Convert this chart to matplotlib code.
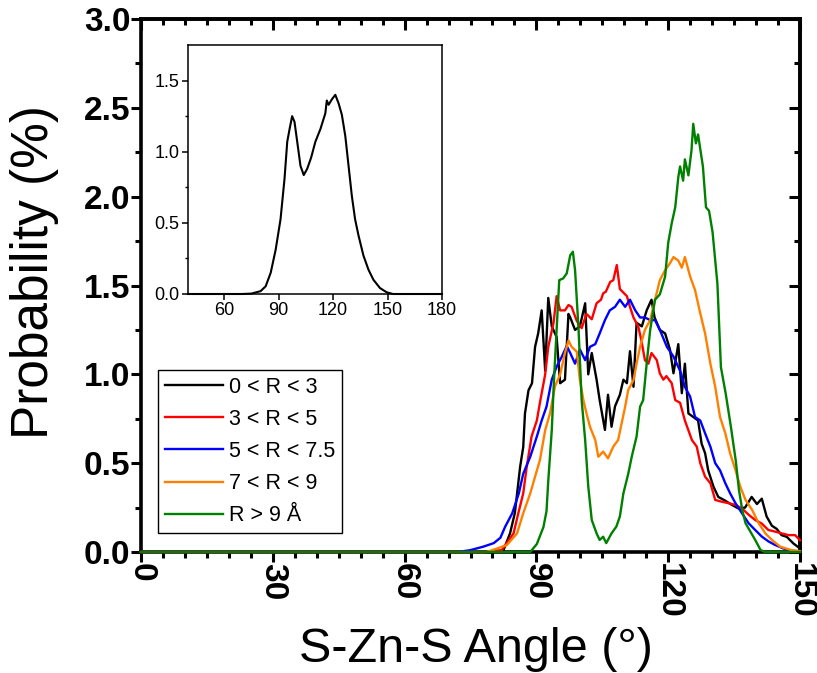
import matplotlib
matplotlib.use("Agg")
import matplotlib.pyplot as plt
from matplotlib.ticker import MultipleLocator, FixedLocator

# ---------------- data ----------------
labels = ["0 < R < 3", "3 < R < 5", "5 < R < 7.5", "7 < R < 9", "R > 9 Å"]
colors = ["#000000", "#FF0000", "#0000FF", "#FF8000", "#008000"]

x_r0 = [0, 78, 80, 82.5, 84, 85.1, 86.3, 87, 87.4, 88.2, 89, 89.7, 90.4, 91.2, 92, 92.7, 93.5, 94.6,
        95.4, 96.5, 97.3, 97.7, 98.8, 99.9, 101.1, 101.8, 102.6, 103.7, 104.4, 105.6, 106.3, 107.1,
        107.9, 109, 109.8, 110.6, 111.3, 112.1, 112.8, 114, 115.1, 116.2, 116.9, 118.1, 119.3, 120.4,
        121.2, 122.3, 123.1, 123.8, 124.6, 125.7, 126.8, 127.6, 128.4, 129.1, 130.3, 131.4, 132.9,
        134.5, 136, 137.5, 139, 140.2, 141.3, 142.4, 143.6, 144.7, 145.8, 147, 148.5, 150]
y_r0 = [0, 0, 0.0, 0.01, 0.105, 0.22, 0.48, 0.59, 0.78, 0.91, 0.95, 1.155, 1.23, 1.36, 1.02, 1.43, 1.27, 1.21,
        0.95, 0.97, 1.34, 1.32, 1.25, 1.27, 1.40, 1.0, 1.12, 0.97, 0.855, 0.687, 0.885, 0.705,
        0.82, 0.885, 0.97, 0.95, 1.13, 0.93, 1.29, 1.27, 1.36, 1.42, 1.32, 1.25, 1.23, 1.14,
        1.006, 1.17, 0.894, 1.06, 0.78, 0.76, 0.74, 0.61, 0.556, 0.46, 0.368, 0.31, 0.29,
        0.265, 0.245, 0.25, 0.31, 0.27, 0.30, 0.20, 0.148, 0.13, 0.095, 0.085, 0.048, 0.02]

x_r3 = [0, 78, 82.1, 84.8, 85.9, 87, 87.8, 88.9, 90.1, 90.8, 92, 92.7, 93.9, 94.6, 95.4, 96.5, 97.3, 98,
        99.2, 100.3, 101.4, 102.6, 103.7, 104.7, 105.2, 105.8, 106.8, 107.5, 108.3, 109, 110.6, 111.3,
        112.1, 113.2, 113.9, 114.7, 115.5, 116.2, 117.4, 118.1, 118.9, 119.6, 120.8, 121.6, 122.7,
        123.8, 125.4, 126.5, 127.3, 128.4, 129.6, 130.7, 132.2, 133.7, 135.3, 136.8, 138.3, 139.8,
        141.3, 142.8, 144.3, 145.8, 147.4, 148.9, 150]
y_r3 = [0, 0, 0.01, 0.105, 0.22, 0.33, 0.48, 0.65, 0.74, 0.84, 1.0, 1.155, 1.29, 1.44, 1.36, 1.36, 1.39, 1.38,
        1.30, 1.26, 1.34, 1.31, 1.40, 1.42, 1.456, 1.465, 1.52, 1.53, 1.615, 1.48, 1.44, 1.38,
        1.32, 1.268, 1.19, 1.08, 1.06, 1.12, 1.08, 1.005, 0.97, 0.99, 0.95, 0.855, 0.84,
        0.74, 0.63, 0.593, 0.5, 0.424, 0.387, 0.293, 0.283, 0.275, 0.265, 0.245, 0.21, 0.18,
        0.16, 0.124, 0.115, 0.105, 0.095, 0.095, 0.066]

x_r5 = [0, 72, 74.9, 77.9, 80.3, 81.8, 82.9, 84.5, 86, 87, 88.6, 90.1, 91.2, 92.3, 93.5, 94.6, 95.8, 96.9,
        97.7, 98.8, 99.9, 101.1, 102.2, 103.4, 104.4, 105.6, 106.7, 107.9, 109, 110.2, 111.3, 112.5,
        113.6, 114.7, 115.9, 117, 118.1, 119.7, 121.2, 122.7, 123.8, 125, 126.1, 127.3, 128.4, 129.6,
        130.7, 131.8, 133, 134.1, 135.3, 136.8, 138.3, 139.8, 141.3, 142.8, 144.3, 146.2, 148.5, 150]
y_r5 = [0, 0, 0.01, 0.03, 0.05, 0.08, 0.143, 0.218, 0.33, 0.44, 0.536, 0.65, 0.74, 0.818, 0.97, 1.043, 1.1, 1.16,
        1.12, 1.06, 1.14, 1.08, 1.155, 1.17, 1.23, 1.305, 1.36, 1.38, 1.42, 1.38, 1.42, 1.36,
        1.32, 1.32, 1.305, 1.305, 1.25, 1.155, 1.1, 1.02, 0.93, 0.874, 0.76, 0.74, 0.668, 0.593,
        0.5, 0.46, 0.387, 0.33, 0.275, 0.218, 0.162, 0.124, 0.087, 0.06, 0.04, 0.02, 0.005, 0]

x_r7 = [0, 76, 78.7, 81.1, 83.3, 85.6, 87, 88.6, 89.7, 90.8, 92, 93.1, 94.2, 95.4, 96.5, 97.3, 98, 99.2,
        99.9, 100.7, 101.4, 102.2, 103.4, 104.1, 105.2, 106.3, 107.5, 108.6, 109.4, 110.2, 110.9,
        112.1, 112.8, 113.6, 114.7, 115.9, 117, 118.1, 119.3, 120.4, 121.2, 122.3, 123.1, 123.8,
        125, 126.1, 127.3, 128.4, 129.6, 130.7, 131.8, 133, 134.1, 135.3, 136.4, 137.6, 139.1,
        140.6, 142.1, 143.6, 145.5, 147.8, 150]
y_r7 = [0, 0, 0.0, 0.02, 0.04, 0.105, 0.218, 0.33, 0.424, 0.517, 0.686, 0.78, 0.93, 1.0, 1.12, 1.19, 1.155, 1.127,
        0.967, 0.855, 0.78, 0.705, 0.63, 0.536, 0.565, 0.527, 0.593, 0.63, 0.724, 0.818, 0.912,
        0.967, 1.06, 1.155, 1.25, 1.305, 1.42, 1.53, 1.586, 1.625, 1.66, 1.64, 1.6, 1.66,
        1.55, 1.475, 1.343, 1.23, 1.06, 0.93, 0.76, 0.668, 0.555, 0.462, 0.368, 0.293, 0.237,
        0.162, 0.105, 0.068, 0.03, 0.012, 0.005]

x_r9 = [0, 88.6, 90.1, 91.6, 92.3, 92.7, 93.5, 94, 94.6, 95.2, 96.1, 96.9, 97.7, 98.3, 98.8, 99.2, 99.6,
        100.3, 101.1, 101.8, 102.6, 103.7, 104.4, 105.2, 105.9, 107.1, 108.2, 109, 109.8, 110.9,
        111.7, 112.8, 113.6, 114.3, 115.1, 115.9, 117, 118.1, 119.3, 120, 120.8, 121.6, 122.3,
        122.7, 123.4, 123.8, 124.6, 125.3, 125.7, 126.3, 126.8, 127.9, 128.6, 129.3, 130.1, 131.2,
        132, 133.1, 134.3, 135.4, 136.1, 136.9, 137.6, 138.7, 139.8, 141, 142, 150]
y_r9 = [0, 0, 0.045, 0.14, 0.23, 0.40, 0.686, 0.967, 1.25, 1.53, 1.54, 1.568, 1.67, 1.69, 1.587, 1.42, 1.25,
        0.855, 0.63, 0.37, 0.18, 0.105, 0.068, 0.086, 0.05, 0.105, 0.143, 0.2, 0.33, 0.44,
        0.536, 0.65, 0.818, 0.855, 1.06, 1.25, 1.42, 1.45, 1.55, 1.74, 1.85, 1.94, 2.11,
        2.17, 2.09, 2.21, 2.12, 2.26, 2.41, 2.30, 2.35, 2.17, 1.94, 1.92, 1.80, 1.51,
        1.04, 0.89, 0.70, 0.51, 0.35, 0.23, 0.162, 0.115, 0.068, 0.012, 0, 0]

inset_x = [40, 70, 75, 80, 82.8, 85.6, 88.3, 91, 93.2, 94.7, 96, 97.4, 98.7, 100.2, 102, 103.8, 105.7,
           107.9, 110.2, 113, 115.7, 116.5, 117.5, 119.4, 121.2, 123, 124.8, 126.7, 128.5, 130.3, 132.1,
           134, 136.7, 139.5, 142.2, 145.8, 149.5, 153, 160, 180]
inset_y = [0, 0, 0.003, 0.02, 0.054, 0.15, 0.31, 0.525, 0.81, 1.07, 1.16, 1.25, 1.21, 1.07, 0.90, 0.836, 0.88,
           0.96, 1.07, 1.16, 1.27, 1.36, 1.33, 1.37, 1.40, 1.34, 1.26, 1.11, 0.90, 0.69, 0.525,
           0.41, 0.27, 0.17, 0.10, 0.042, 0.012, 0, 0, 0]

series_x = [x_r0, x_r3, x_r5, x_r7, x_r9]
series_y = [y_r0, y_r3, y_r5, y_r7, y_r9]

plt.rcParams["font.family"] = ["Liberation Sans", "DejaVu Sans"]

# ---------------- figure ----------------
fig = plt.figure(figsize=(8.17, 6.73), dpi=100)
ax = fig.add_axes([141 / 817, 1 - 552 / 673, 659 / 817, 533 / 673])

for xs, ys, c, lab in zip(series_x, series_y, colors, labels):
    ax.plot(xs, ys, color=c, lw=1.7, label=lab, zorder=3, clip_on=False)

ax.set_xlim(0, 150)
ax.set_ylim(0, 3.0)
for sp in ax.spines.values():
    sp.set_linewidth(2.6)

ax.xaxis.set_major_locator(MultipleLocator(30))
ax.xaxis.set_minor_locator(MultipleLocator(5))
ax.yaxis.set_major_locator(MultipleLocator(0.5))
ax.yaxis.set_minor_locator(MultipleLocator(0.25))
ax.tick_params(which="major", direction="out", length=7, width=2.2, top=False, right=False)
ax.tick_params(which="minor", direction="out", length=4.5, width=2.2, top=False, right=False)
ax.set_yticks([0, 0.5, 1.0, 1.5, 2.0, 2.5, 3.0])
ax.set_yticklabels(["0.0", "0.5", "1.0", "1.5", "2.0", "2.5", "3.0"])
for t in ax.get_yticklabels() + ax.get_xticklabels():
    t.set_fontweight("bold")
    t.set_fontsize(24)
for t in ax.get_xticklabels():
    t.set_rotation(270)
ax.tick_params(axis="x", pad=1)
ax.tick_params(axis="y", pad=0.5)

# top and right: inward ticks, no labels
top = ax.secondary_xaxis("top")
top.xaxis.set_major_locator(MultipleLocator(30))
top.xaxis.set_minor_locator(MultipleLocator(5))
top.tick_params(which="major", direction="in", length=8, width=2.2, labeltop=False)
top.tick_params(which="minor", direction="in", length=4.5, width=2.2)
top.spines["top"].set_linewidth(2.6)
right = ax.secondary_yaxis("right")
right.yaxis.set_major_locator(MultipleLocator(0.5))
right.yaxis.set_minor_locator(MultipleLocator(0.25))
right.tick_params(which="major", direction="in", length=8, width=2.2, labelright=False)
right.tick_params(which="minor", direction="in", length=4.5, width=2.2)
right.spines["right"].set_linewidth(2.6)

ax.set_xlabel("S-Zn-S Angle (°)", fontsize=35)
ax.xaxis.label.set_va("baseline")
ax.xaxis.set_label_coords(0.5075, (552 - 662) / 533)
ax.set_ylabel("Probability (%)", fontsize=37)
ax.yaxis.set_label_coords((59 - 141) / 659, (552 - 272) / 533)

leg = ax.legend(loc="lower left", bbox_to_anchor=(0.026, 0.036), borderaxespad=0,
                prop={"size": 15.5}, frameon=True, fancybox=False,
                edgecolor="black", framealpha=1, handlelength=2.7, handletextpad=0.3,
                labelspacing=0.52, borderpad=0.3)
leg.get_frame().set_linewidth(1.0)
for h in leg.get_lines():
    h.set_linewidth(1.7)

# ---------------- inset ----------------
ins = fig.add_axes([188 / 817, 1 - 294 / 673, 254 / 817, 249 / 673])
ins.plot(inset_x, inset_y, color="black", lw=1.5, clip_on=False)
ins.set_xlim(40, 180)
ins.set_ylim(0, 1.75)
for sp in ins.spines.values():
    sp.set_linewidth(1.1)
ins.xaxis.set_major_locator(FixedLocator([60, 90, 120, 150, 180]))
ins.yaxis.set_major_locator(FixedLocator([0.0, 0.5, 1.0, 1.5]))
ins.yaxis.set_minor_locator(FixedLocator([0.25, 0.75, 1.25]))
ins.tick_params(which="major", direction="out", length=4, width=1.1, labelsize=13, pad=2)
ins.tick_params(which="minor", direction="out", length=2.5, width=1.0)
ins.set_yticklabels(["0.0", "0.5", "1.0", "1.5"])

fig.savefig("out.png", dpi=100)
